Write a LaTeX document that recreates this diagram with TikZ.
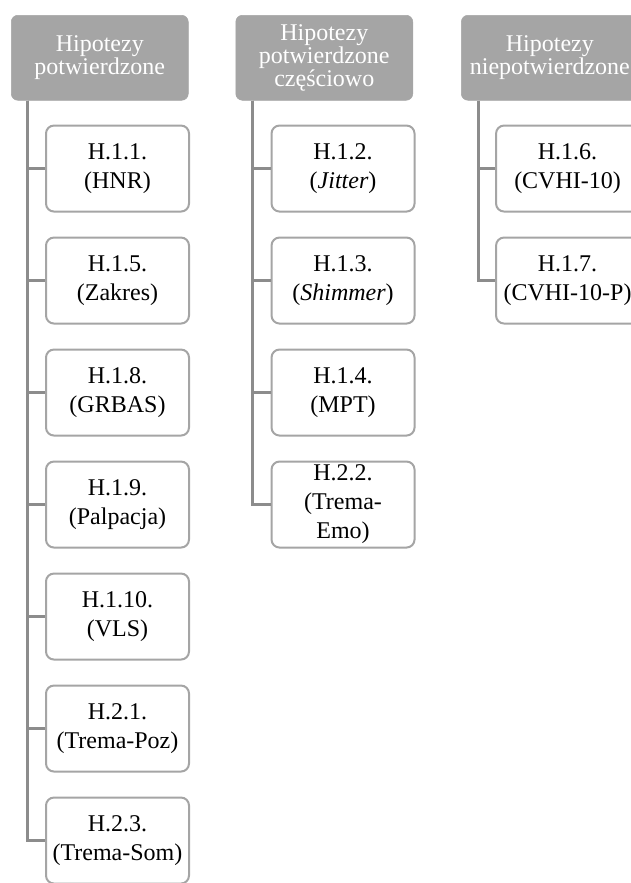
\documentclass[tikz,border=0pt]{standalone}
\usepackage{fontspec}
\setmainfont{Liberation Serif}
\usepackage{tikz}
\usetikzlibrary{positioning}
\definecolor{hdrgray}{HTML}{A5A5A5}
\definecolor{linkgray}{HTML}{8C8C8C}

\begin{document}
\begin{tikzpicture}[
        header/.style={fill=hdrgray, draw=hdrgray, rounded corners=5pt, text=white, align=center, inner sep=2pt, font=\fontsize{18}{17.5}\selectfont, minimum width=132.75pt, minimum height=63.75pt},
        hyp/.style={draw=hdrgray, line width=1.5pt, rounded corners=6pt, fill=white, align=center, inner xsep=2pt, inner ysep=0.5pt, font=\fontsize{18}{21.75}\selectfont, minimum width=107.25pt, minimum height=64.5pt},
        link/.style={draw=linkgray, line width=2.25pt},
        node distance=18pt
    ]

        \path[use as bounding box, clip] (0,0) rectangle (473.25pt,-662.25pt);

        \node[header, anchor=north west] (conf) at (8.25pt,-11.25pt) {Hipotezy\\potwierdzone};
        \node[header, right=35.25pt of conf] (part) {Hipotezy\\potwierdzone\\częściowo};
        \node[header, right=36pt of part] (rej) {Hipotezy\\niepotwierdzone};

        \coordinate (tconf) at ([xshift=12pt]conf.south west);
        \coordinate (tpart) at ([xshift=12.75pt]part.south west);
        \coordinate (trej) at ([xshift=12.75pt]rej.south west);

        \node[hyp, below right=18pt and 25.5pt of conf.south west] (h11) {H.1.1.\\(HNR)};
        \node[hyp, below=of h11] (h15) {H.1.5.\\(Zakres)};
        \node[hyp, below=of h15] (h18) {H.1.8.\\(GRBAS)};
        \node[hyp, below=of h18] (h19) {H.1.9.\\(Palpacja)};
        \node[hyp, below=of h19] (h110) {H.1.10.\\(VLS)};
        \node[hyp, below=of h110] (h21) {H.2.1.\\(Trema-Poz)};
        \node[hyp, below=of h21] (h23) {H.2.3.\\(Trema-Som)};

        \node[hyp, below right=18pt and 26.25pt of part.south west] (h12) {H.1.2.\\(\textit{Jitter})};
        \node[hyp, below=of h12] (h13) {H.1.3.\\(\textit{Shimmer})};
        \node[hyp, below=of h13] (h14) {H.1.4.\\(MPT)};
        \node[hyp, below=of h14] (h22) {H.2.2.\\(Trema-\\Emo)};

        \node[hyp, below right=18pt and 25.5pt of rej.south west] (h16) {H.1.6.\\(CVHI-10)};
        \node[hyp, below=of h16] (h17) {H.1.7.\\(CVHI-10-P)};

        \draw[link] (tconf) |- (h11.west);
        \draw[link] (tconf) |- (h15.west);
        \draw[link] (tconf) |- (h18.west);
        \draw[link] (tconf) |- (h19.west);
        \draw[link] (tconf) |- (h110.west);
        \draw[link] (tconf) |- (h21.west);
        \draw[link] (tconf) |- (h23.west);
        \draw[link] (tpart) |- (h12.west);
        \draw[link] (tpart) |- (h13.west);
        \draw[link] (tpart) |- (h14.west);
        \draw[link] (tpart) |- (h22.west);
        \draw[link] (trej) |- (h16.west);
        \draw[link] (trej) |- (h17.west);
    \end{tikzpicture}
\end{document}
